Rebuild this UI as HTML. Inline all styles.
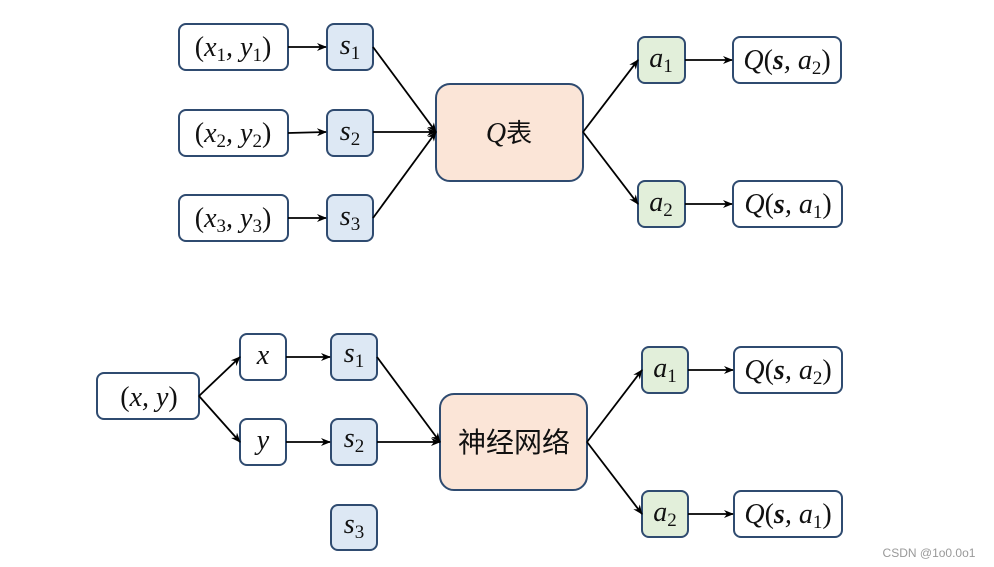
<!DOCTYPE html>
<html><head><meta charset="utf-8"><style>
html,body{margin:0;padding:0;background:#fff;}
svg{display:block}
.b{stroke:#2f4b70;stroke-width:2}
text{font-family:"Liberation Serif","Noto Serif CJK SC",serif;font-style:italic;font-size:28px;fill:#111;text-anchor:middle}
.sub{font-size:19px;font-style:normal}
.n{font-style:normal}
.l{stroke:#000;stroke-width:1.8;fill:none;marker-end:url(#ar)}
</style></head><body>
<svg width="994" height="567" viewBox="0 0 994 567" xmlns="http://www.w3.org/2000/svg">
<defs><marker id="ar" markerWidth="10" markerHeight="8" refX="9" refY="4" orient="auto" markerUnits="userSpaceOnUse"><path d="M0,0 L10,4 L0,8 L3,4 z" fill="#000"/></marker></defs>
<g class="b">
<rect x="179" y="24" width="109" height="46" rx="7" fill="#fff"/>
<rect x="179" y="110" width="109" height="46" rx="7" fill="#fff"/>
<rect x="179" y="195" width="109" height="46" rx="7" fill="#fff"/>
<rect x="327" y="24" width="46" height="46" rx="7" fill="#dde8f4"/>
<rect x="327" y="110" width="46" height="46" rx="7" fill="#dde8f4"/>
<rect x="327" y="195" width="46" height="46" rx="7" fill="#dde8f4"/>
<rect x="436" y="84" width="147" height="97" rx="14" fill="#fbe5d7"/>
<rect x="638" y="37" width="47" height="46" rx="7" fill="#e2efda"/>
<rect x="638" y="181" width="47" height="46" rx="7" fill="#e2efda"/>
<rect x="733" y="37" width="108" height="46" rx="7" fill="#fff"/>
<rect x="733" y="181" width="109" height="46" rx="7" fill="#fff"/>

<rect x="97" y="373" width="102" height="46" rx="7" fill="#fff"/>
<rect x="240" y="334" width="46" height="46" rx="7" fill="#fff"/>
<rect x="240" y="419" width="46" height="46" rx="7" fill="#fff"/>
<rect x="331" y="334" width="46" height="46" rx="7" fill="#dde8f4"/>
<rect x="331" y="419" width="46" height="46" rx="7" fill="#dde8f4"/>
<rect x="331" y="505" width="46" height="45" rx="7" fill="#dde8f4"/>
<rect x="440" y="394" width="147" height="96" rx="14" fill="#fbe5d7"/>
<rect x="642" y="347" width="46" height="46" rx="7" fill="#e2efda"/>
<rect x="642" y="491" width="46" height="46" rx="7" fill="#e2efda"/>
<rect x="734" y="347" width="108" height="46" rx="7" fill="#fff"/>
<rect x="734" y="491" width="108" height="46" rx="7" fill="#fff"/>
</g>
<path class="l" d="M288,47 L326,47"/><path class="l" d="M288,133 L326,132"/><path class="l" d="M288,218 L326,218"/>
<path class="l" d="M373,47 L436,132"/><path class="l" d="M373,132 L436,132"/><path class="l" d="M373,218 L436,132"/>
<path class="l" d="M583,132 L638,60"/><path class="l" d="M583,132 L638,204"/>
<path class="l" d="M685,60 L732,60"/><path class="l" d="M685,204 L732,204"/>
<path class="l" d="M199,396 L240,357"/><path class="l" d="M199,396 L240,442"/>
<path class="l" d="M286,357 L330,357"/><path class="l" d="M286,442 L330,442"/>
<path class="l" d="M377,357 L440,442"/><path class="l" d="M377,442 L440,442"/>
<path class="l" d="M587,442 L642,370"/><path class="l" d="M587,442 L642,514"/>
<path class="l" d="M688,370 L733,370"/><path class="l" d="M688,514 L733,514"/>

<text x="233" y="56"><tspan class="n">(</tspan>x<tspan class="sub" dy="5">1</tspan><tspan dy="-5">, y</tspan><tspan class="sub" dy="5">1</tspan><tspan class="n" dy="-5">)</tspan></text>
<text x="233" y="142"><tspan class="n">(</tspan>x<tspan class="sub" dy="5">2</tspan><tspan dy="-5">, y</tspan><tspan class="sub" dy="5">2</tspan><tspan class="n" dy="-5">)</tspan></text>
<text x="233" y="227"><tspan class="n">(</tspan>x<tspan class="sub" dy="5">3</tspan><tspan dy="-5">, y</tspan><tspan class="sub" dy="5">3</tspan><tspan class="n" dy="-5">)</tspan></text>
<text x="350" y="54">s<tspan class="sub" dy="5">1</tspan></text>
<text x="350" y="140">s<tspan class="sub" dy="5">2</tspan></text>
<text x="350" y="225">s<tspan class="sub" dy="5">3</tspan></text>
<text x="509" y="142">Q<tspan style="font-style:normal;font-family:'Noto Sans CJK SC',sans-serif;font-size:26px">表</tspan></text>
<text x="661" y="67">a<tspan class="sub" dy="5">1</tspan></text>
<text x="661" y="211">a<tspan class="sub" dy="5">2</tspan></text>
<text x="787" y="69">Q<tspan class="n">(</tspan><tspan font-weight="bold">s</tspan>, a<tspan class="sub" dy="5">2</tspan><tspan class="n" dy="-5">)</tspan></text>
<text x="788" y="213">Q<tspan class="n">(</tspan><tspan font-weight="bold">s</tspan>, a<tspan class="sub" dy="5">1</tspan><tspan class="n" dy="-5">)</tspan></text>

<text x="149" y="406"><tspan class="n">(</tspan>x, y<tspan class="n">)</tspan></text>
<text x="263" y="364">x</text>
<text x="263" y="449">y</text>
<text x="354" y="362">s<tspan class="sub" dy="5">1</tspan></text>
<text x="354" y="447">s<tspan class="sub" dy="5">2</tspan></text>
<text x="354" y="533">s<tspan class="sub" dy="5">3</tspan></text>
<text x="514" y="452" style="font-style:normal;font-family:'Noto Sans CJK SC',sans-serif;font-size:28px">神经网络</text>
<text x="665" y="377">a<tspan class="sub" dy="5">1</tspan></text>
<text x="665" y="521">a<tspan class="sub" dy="5">2</tspan></text>
<text x="788" y="379">Q<tspan class="n">(</tspan><tspan font-weight="bold">s</tspan>, a<tspan class="sub" dy="5">2</tspan><tspan class="n" dy="-5">)</tspan></text>
<text x="788" y="523">Q<tspan class="n">(</tspan><tspan font-weight="bold">s</tspan>, a<tspan class="sub" dy="5">1</tspan><tspan class="n" dy="-5">)</tspan></text>
<text x="929" y="557" style="font-family:'Liberation Sans',sans-serif;font-style:normal;font-size:12px;fill:#999">CSDN @1o0.0o1</text>
</svg>
</body></html>
